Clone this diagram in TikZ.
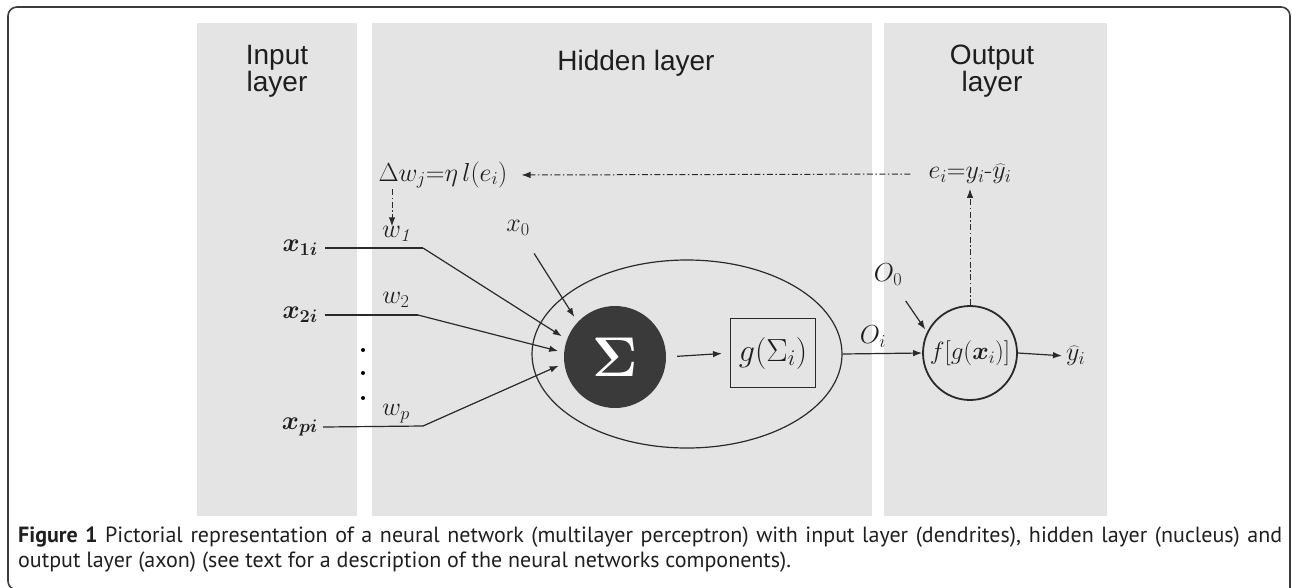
\documentclass[tikz,border=0pt]{standalone}
\usepackage{fix-cm}
\usepackage{bm}
\usepackage{fontspec}
\newfontfamily\titlefont{Liberation Sans}
\newfontfamily\capfont{PT Sans}
\usetikzlibrary{arrows.meta,shapes.geometric}
\definecolor{panelgray}{HTML}{E4E4E4}
\definecolor{linegray}{HTML}{2A2A2A}
\definecolor{sigfill}{HTML}{3A3A3A}
\definecolor{framegray}{HTML}{3C3C3C}
\definecolor{txtgray}{HTML}{1E1E1E}
\begin{document}
\begin{tikzpicture}[x=1pt,y=-1pt,
  panel/.style={fill=panelgray,draw=none},
  frameline/.style={draw=framegray,line width=1.6pt},
  conn/.style={draw=linegray,line width=1.2pt,-{Latex[length=9pt,width=6.5pt]}},
  plainline/.style={draw=linegray,line width=1.2pt},
  dd/.style={draw=linegray,line width=1pt,dash pattern=on 6pt off 2.5pt on 1.5pt off 2.5pt,-{Latex[length=9pt,width=6.5pt]}},
  mlab/.style={inner sep=0pt,text=txtgray,font=\fontsize{26}{26}\selectfont},
  ttl/.style={inner sep=0pt,align=center,text=txtgray,font=\titlefont\fontsize{28}{27}\selectfont},
  dotmark/.style={fill=black,draw=none,circle,minimum size=4pt,inner sep=0pt},
  captext/.style={anchor=base west,inner sep=0pt,text=black!88,font=\capfont\fontsize{22}{25}\selectfont},
]
\useasboundingbox (0,0) rectangle (1292,587);
\clip (0,0) rectangle (1292,587);
% frame
\draw[frameline,rounded corners=9pt] (700,590) -- (8,590) -- (8,7) -- (1290,7) -- (1290,640);
% panels
\fill[panel] (197,23) rectangle (357,516);
\fill[panel] (372,23) rectangle (872,516);
\fill[panel] (884,23) rectangle (1107,516);
% titles
\node[ttl,anchor=north] (tin) at (277,45) {Input\\layer};
\node[ttl,anchor=base] (thid) at (636,70) {Hidden layer};
\node[ttl,anchor=north] (tout) at (992,45) {Output\\layer};
% inputs
\node[mlab,anchor=east] (x1) at (318,248) {$\bm{x}_{\bm{1i}}$};
\node[mlab,anchor=east] (x2) at (318,315) {$\bm{x}_{\bm{2i}}$};
\node[mlab,anchor=east] (xp) at (318,427) {$\bm{x}_{\bm{pi}}$};
\node[dotmark] (d1) at (363,350) {};
\node[dotmark] (d2) at (363,373) {};
\node[dotmark] (d3) at (363,398) {};
\node[mlab] (w1) at (396,234) {$w_{\mathit{1}}$};
\node[mlab] (w2) at (396,300) {$w_2$};
\node[mlab] (wp) at (396,414) {$w_p$};
\node[mlab] (x0) at (518,228) {$x_0$};
% hidden neuron
\node[draw=linegray,line width=1.2pt,ellipse,minimum width=310pt,minimum height=188pt,inner sep=0pt] (ell) at (687,354) {};
\node[circle,fill=sigfill,minimum size=102pt,inner sep=0pt,text=white,font=\fontsize{56}{56}\selectfont] (sig) at (615,357) {$\bm{\Sigma}$};
\node[draw=linegray,line width=1.2pt,minimum width=85pt,minimum height=69pt,inner sep=0pt,text=txtgray,font=\fontsize{32}{32}\selectfont] (gbox) at (773,353) {$g(\Sigma_i)$};
% output neuron
\node[draw=linegray,line width=1.8pt,circle,minimum size=94pt,inner sep=0pt,text=txtgray,font=\fontsize{25}{25}\selectfont] (fc) at (970,353) {$f[g(\bm{x}_i)]$};
\node[mlab] (O0) at (888,275) {$O_0$};
\node[mlab] (Oi) at (873,337) {$O_i$};
\node[mlab,anchor=west] (yhat) at (1066,356) {$\widehat{y}_i$};
% learning labels
\node[mlab] (dw) at (443,175) {$\Delta w_j{=}\eta\, l(e_i)$};
\node[mlab] (err) at (970,174) {$e_i{=}y_i\mbox{-}\widehat{y}_i$};
\coordinate (dwa) at (392,189);
\coordinate (b1) at (423,248);
\coordinate (b2) at (418,315);
\coordinate (bp) at (423,426);
% connectors
\draw[plainline] (x1.east) ++(7,0) -- (b1);
\draw[conn,shorten >=6pt] (b1) -- (sig.160);
\draw[plainline] (x2.east) ++(7,0) -- (b2);
\draw[conn,shorten >=6pt] (b2) -- (sig.175);
\draw[plainline] (xp.east) ++(5,0) -- (bp);
\draw[conn,shorten >=6pt] (bp) -- (sig.187);
\draw[conn,shorten <=21pt,shorten >=6pt] (x0) -- (sig.137);
\draw[conn,shorten <=11pt,shorten >=8pt] (sig.east) -- (gbox.west);
\draw[conn] (ell.east) -- (fc.west);
\draw[conn,shorten <=18pt,shorten >=3pt] (O0) -- (fc.154);
\draw[conn,shorten >=4pt] (fc.east) -- (yhat.west);
\draw[dd,shorten >=5pt] (fc.north) -- (err.south);
\draw[dd,shorten <=18pt,shorten >=14pt] (err.west) -- (dw.east);
\draw[dd] (dwa) -- (dwa |- w1.north);
% caption
\node[captext] (cap1) at (18,542)
  {\makebox[1264pt][s]{\textbf{Figure 1} Pictorial representation of a neural network (multilayer perceptron) with input layer (dendrites), hidden layer (nucleus) and}};
\node[captext] (cap2) at (18,567)
  {output layer (axon) (see text for a description of the neural networks components).};
\end{tikzpicture}
\end{document}
